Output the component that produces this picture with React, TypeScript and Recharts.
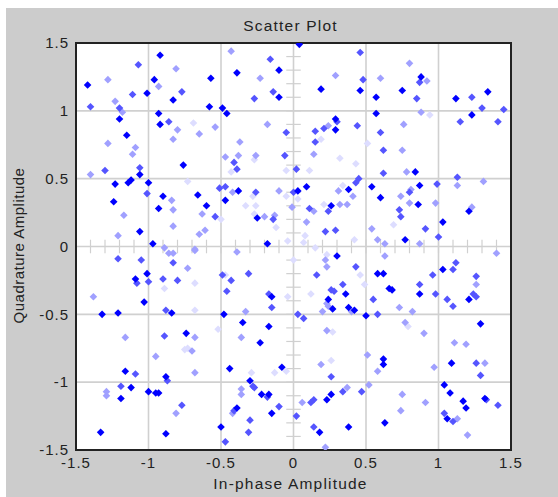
import React from "react";
import { ScatterChart, Scatter, XAxis, YAxis, CartesianGrid, ReferenceLine, ReferenceArea } from "recharts";

const axisTicks = [-1.5, -1, -0.5, 0, 0.5, 1, 1.5];
const minorTicks = [-1.4, -1.3, -1.2, -1.1, -1, -0.9, -0.8, -0.7, -0.6, -0.5, -0.4, -0.3, -0.2, -0.1, 0.1, 0.2, 0.3, 0.4, 0.5, 0.6, 0.7, 0.8, 0.9, 1, 1.1, 1.2, 1.3, 1.4];

type P = [number, number];

const palePoints: P[] = [
  [-.69,.91],[-.27,.64],[-.43,.55],[-.05,.56],[-.73,.48],[-.28,.37],[-.05,.37],[.03,.35],[-.33,.30],[-.26,.30],[-.27,.24],[-.50,.20],[-.12,.14],[-.04,.04],
  [.94,.97],[.19,.79],[.51,.76],[.32,.65],[.43,.61],[.11,.56],[.34,.45],[.21,.31],[.69,.16],[.08,.08],[.42,.05],[.07,.03],[.15,-.01],
  [0,-.10],[-.47,-.21],[-.68,-.27],[-.89,-.31],[-.04,-.37],[-.68,-.47],[-.52,-.61],[-.75,-.76],[-.73,-.75],[-.29,-.93],[-.13,-.93],[-.05,-.92],
  [.23,-.06],[.46,-.21],[.49,-.28],[.12,-.35],[.79,-.59],[.27,-.63],[.26,-.84],
];

const lightPoints: P[] = [
  [-1.28,1.23],[-1.23,1.07],[-.93,1.18],[-.81,1.31],[-.43,1.44],[-.23,1.24],[-1.18,.99],[-.80,.86],[-.54,.88],[-.65,.83],[-.83,.79],[-.18,.90],[-.37,.77],[-1.28,.76],[-1.09,.73],[-1.11,.68],[-.38,.67],[-.47,.66],[-.26,.67],[-1.40,.53],[-.42,.40],[-.10,.41],[-.84,.34],[-.83,.27],[-.01,.29],[-.63,.24],[-1.17,.23],[-.20,.22],[-.13,.23],[-.83,.15],[-.61,.12],[-.65,.09],[-1.21,.08],[-.89,-.01],[-.68,-.02],
  [.29,1.26],[.80,1.35],[.60,1.24],[.92,1.22],[.88,.99],[.76,.90],[.24,.89],[.14,.68],[.75,.71],[.78,.55],[1.31,.48],[1.13,.45],[.31,.41],[.81,.42],[.41,.37],[.74,.37],[.32,.31],[.37,.31],[.80,.32],[.98,.32],[.14,.26],[1.23,.29],[.09,.18],[.54,.13],[.58,.05],[.63,.02],[.87,.02],
  [-.68,-.03],[-.86,-.05],[-.83,-.05],[-.39,-.04],[-.73,-.16],[-1.38,-.37],[-.33,-.48],[-1.16,-.67],[-.68,-.67],[-.36,-.67],[-.70,-.77],[-.95,-.81],[-.68,-.93],[-.36,-1.05],[-1.29,-1.07],[-.36,-1.09],[-1.29,-1.10],[-.42,-1.23],[-.81,-1.23],
  [1.40,-.05],[.63,-.07],[.22,-.10],[.23,-.15],[1.26,-.28],[.23,-.42],[.24,-.44],[.73,-.45],[.40,-.48],[.20,-.48],[.82,-.48],[.77,-.56],[.23,-.62],[.90,-.64],[1.11,-.71],[1.19,-.72],[.51,-.80],[.19,-.87],[1.32,-.86],[.97,-.89],[.58,-.92],[.52,-1.02],[.37,-1.04],[.75,-1.09],[.06,-1.15],[.91,-1.15],[.74,-1.21],[1.13,-1.27],[1.20,-1.39],[.22,-1.48],
];

const midPoints: P[] = [
  [-1.40,1.03],[-1.11,1.12],[-1.07,1.34],[-.77,1.14],[-.16,1.38],[-.14,1.14],[-.27,1.09],[-1.20,1.02],[-.86,.92],[-.05,.84],[-.41,.62],[-.06,.67],[-.39,.57],[-1.06,.58],[-1.30,.56],[-.51,.43],[-.47,.44],[-.26,.40],[-1.01,.39],[-.54,.22],[-.14,.20],[0,.40],[.02,.57],
  [.46,1.43],[.48,1.23],[.87,1.21],[.85,1.09],[1.23,1.10],[1.30,1.02],[1.45,1.01],[.30,.92],[1.15,.92],[1.41,.92],[.21,.87],[.15,.85],[.44,.89],[.60,.84],[.15,.77],[.62,.71],[.62,.54],[.45,.50],[.43,.47],[1.13,.51],[.99,.46],[.80,.40],[.11,.28],[.24,.26],[.73,.27],[.74,.22],[.91,.13],[.29,.12],[.22,.11],[1.00,.07],
  [-1.21,-.09],[-1.05,-.10],[-.83,-.12],[-.49,-.21],[-.31,-.20],[-.90,-.24],[-.80,-.25],[-.43,-.25],[-1.08,-.27],[-1.00,-.26],[-.46,-.33],[-.17,-.35],[-.15,-.45],[-.88,-.47],[.03,-.50],[-.89,-.66],[-1.09,-.94],[-.87,-.99],[-1.19,-1.03],[-.28,-1.03],[-.27,-1.04],[-.18,-1.11],[-.77,-1.17],[-.10,-1.18],[-.41,-1.21],[.02,-1.25],[-.30,-1.28],[-.31,-1.37],[-.47,-1.44],
  [1.12,-.12],[.43,-.15],[1.10,-.17],[.16,-.21],[.96,-.21],[1.26,-.22],[.34,-.28],[.87,-.28],[.26,-.32],[.28,-.33],[.98,-.35],[1.24,-.35],[1.26,-.37],[1.06,-.39],[1.10,-.44],[.58,-.50],[.07,-.53],[.55,-.39],[1.26,-.86],[1.29,-.95],[.26,-.96],[.34,-1.07],[.47,-1.07],[.14,-1.13],[.12,-1.15],[1.33,-1.13],[1.41,-1.17],[1.04,-1.23],[1.10,-1.29],[.14,-1.33],
];

const darkPoints: P[] = [
  [-1.42,1.19],[-1.01,1.13],[-.96,1.23],[-.92,1.41],[-.83,1.08],[-.57,1.24],[-.39,1.28],[-.10,1.30],[-.10,1.10],[-.58,1.03],[-.49,1.02],[-.46,.98],[-1.20,.94],[-.93,.98],[-.92,.90],[-1.15,.82],[-.76,.60],[-1.06,.53],[-1.12,.49],[-1.14,.47],[-1.23,.46],[-1.00,.47],[-.90,.37],[-.66,.38],[-.38,.41],[-1.24,.33],[-.93,.28],[-.60,.30],[-.47,.34],[-.25,.21],[-1.06,.11],[-.18,.02],[-.97,.02],[.03,.41],
  [.04,1.49],[.88,1.25],[.19,1.16],[.46,1.15],[.75,1.15],[1.34,1.14],[.57,1.10],[1.12,1.09],[.57,.98],[1.23,.97],[.29,.94],[.29,.86],[.84,.55],[.09,.44],[.54,.44],[.87,.45],[.38,.42],[.60,.36],[.26,.30],[.86,.31],[1.21,.26],[1.03,.18],[.77,.05],
  [-1.09,-.24],[-1.01,-.20],[-1.03,-.41],[-1.32,-.50],[-1.21,-.49],[-.84,-.49],[-.48,-.50],[-.35,-.56],[-.17,-.59],[-.15,-.37],[-.74,-.64],[-.23,-.71],[-.08,-.89],[-.44,-.90],[-1.16,-.92],[-.88,-.96],[-.30,-.99],[-1.12,-1.04],[-1.00,-1.07],[-.95,-1.08],[-.93,-1.08],[-.22,-1.09],[-.17,-1.09],[-1.19,-1.12],[-.39,-1.19],[-.15,-1.23],[-.50,-1.33],[-1.33,-1.37],[-.88,-1.38],
  [.30,-.07],[1.03,-.17],[.58,-.20],[.62,-.20],[.66,-.31],[.68,-.32],[.36,-.35],[.87,-.35],[.24,-.39],[1.21,-.39],[.27,-.46],[.38,-.45],[.42,-.47],[.50,-.51],[1.29,-.57],[.62,-.83],[.62,-.87],[1.09,-.86],[1.04,-1.02],[1.08,-1.08],[.26,-1.09],[.23,-1.13],[1.17,-1.14],[1.32,-1.12],[1.19,-1.19],[1.06,-1.27],[.38,-1.33],[.63,-1.30],[.18,-1.37],
];

const toRows = (pts: P[]) => pts.map(([x, y]) => ({ x, y }));

const Diamond = (props: any) => {
  const { cx, cy, fill } = props;
  const r = 3.8;
  return <path d={`M${cx - r} ${cy}L${cx} ${cy - r}L${cx + r} ${cy}L${cx} ${cy + r}Z`} fill={fill} />;
};

const fontFamily = "'Liberation Sans', Arial, sans-serif";
const tickStyle = { fontSize: 15, fontFamily, fill: "#222", letterSpacing: 1 };
const titleStyle = { fontSize: 15.5, fontFamily, fill: "#222", letterSpacing: 1.2 };
const sideTitleStyle = { fontSize: 15, fontFamily, fill: "#222", letterSpacing: 0.5 };

export default function App() {
  return (
    <div style={{ position: "absolute", left: 0, top: 0, width: 558, height: 497, background: "#fff" }}>
      <div style={{ position: "absolute", left: 6, top: 8, width: 552, height: 489, background: "#cccccc" }} />
      <div style={{ position: "absolute", left: 0, top: 0 }}>
        <ScatterChart width={558} height={497} margin={{ top: 43, right: 47, bottom: 0, left: 0 }}>
          <CartesianGrid stroke="#d0d0d0" strokeWidth={1.6} fill="#ffffff" />
          <XAxis
            type="number"
            dataKey="x"
            domain={[-1.5, 1.5]}
            ticks={axisTicks}
            height={47}
            axisLine={false}
            tickLine={false}
            tickMargin={1}
            tick={tickStyle}
            interval={0}
            allowDataOverflow
            label={{ value: "In-phase Amplitude", position: "insideBottom", offset: 8, dx: -3, style: titleStyle }}
          />
          <YAxis
            type="number"
            dataKey="y"
            domain={[-1.5, 1.5]}
            ticks={axisTicks}
            width={76}
            axisLine={false}
            tickLine={false}
            tickMargin={1}
            tick={tickStyle}
            interval={0}
            allowDataOverflow
            label={{ value: "Quadrature Amplitude", angle: -90, position: "insideLeft", offset: 19, dy: -1, style: { ...sideTitleStyle, textAnchor: "middle" } }}
          />
          {minorTicks.map((t) => (
            <ReferenceLine key={`mx${t}`} segment={[{ x: t, y: -0.05 }, { x: t, y: 0.05 }]} stroke="#d0d0d0" strokeWidth={1.2} />
          ))}
          {minorTicks.map((t) => (
            <ReferenceLine key={`my${t}`} segment={[{ x: -0.05, y: t }, { x: 0.05, y: t }]} stroke="#d0d0d0" strokeWidth={1.2} />
          ))}
          <Scatter data={toRows(palePoints)} fill="#ddddff" shape={Diamond} isAnimationActive={false} />
          <Scatter data={toRows(lightPoints)} fill="#a0a0ff" shape={Diamond} isAnimationActive={false} />
          <Scatter data={toRows(midPoints)} fill="#5555ff" shape={Diamond} isAnimationActive={false} />
          <Scatter data={toRows(darkPoints)} fill="#0000ff" shape={Diamond} isAnimationActive={false} />
          <ReferenceArea x1={-1.5} x2={1.5} y1={-1.5} y2={1.5} fill="none" fillOpacity={0} stroke="#222" strokeWidth={2} />
          <text x={290.5} y={31} textAnchor="middle" style={{ ...titleStyle }}>Scatter Plot</text>
        </ScatterChart>
      </div>
    </div>
  );
}
